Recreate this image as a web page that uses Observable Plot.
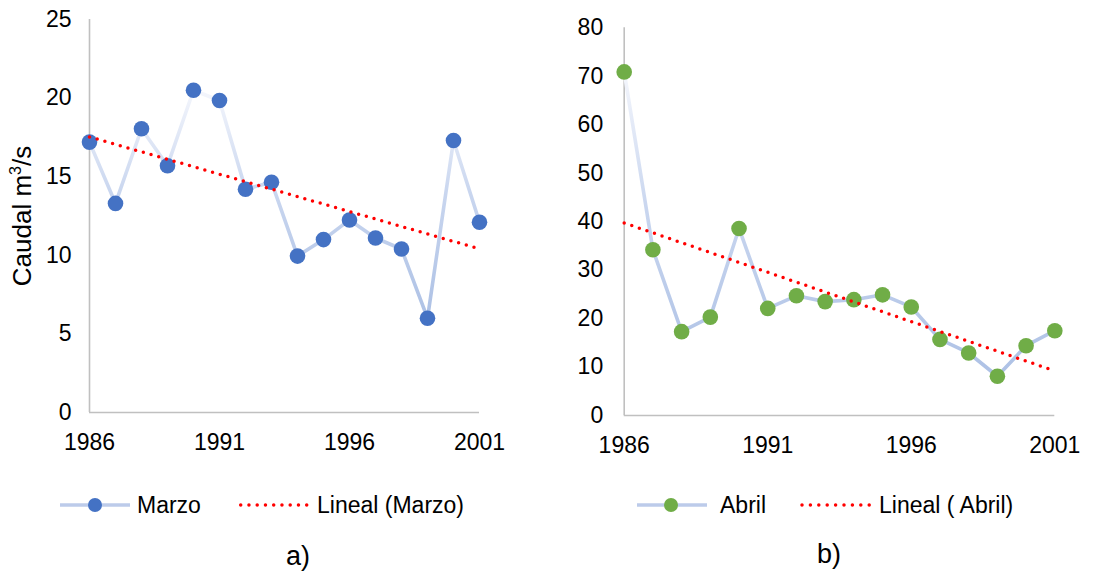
<!DOCTYPE html>
<html><head><meta charset="utf-8">
<script src="https://cdn.jsdelivr.net/npm/d3@7"></script>
<script src="https://cdn.jsdelivr.net/npm/@observablehq/plot@0.6"></script>
<style>
body{margin:0;background:#fff;}
#wrap{position:relative;width:1105px;height:571px;font-family:"Liberation Sans",Arial,sans-serif;overflow:hidden;background:#fff;}
.abs{position:absolute;}
</style></head><body><div id="wrap"></div>
<script>
const years = [1986,1987,1988,1989,1990,1991,1992,1993,1994,1995,1996,1997,1998,1999,2000,2001];
const marzo = [17.2,13.3,18.05,15.7,20.5,19.85,14.2,14.65,9.95,11.0,12.25,11.1,10.4,6.0,17.3,12.1];
const abril = [70.9,34.2,17.3,20.3,38.6,22.1,24.7,23.5,23.9,24.9,22.4,15.7,12.9,8.1,14.4,17.5];
const xTicks = [1986,1991,1996,2001];
const yTicksA = [0,5,10,15,20,25];
const yTicksB = [0,10,20,30,40,50,60,70,80];
const seriesNames = ["Marzo","Abril"];
const trendNames = ["Lineal (Marzo)","Lineal ( Abril)"];
const captions = ["a)","b)"];

const FONT = '"Liberation Sans", Arial, sans-serif';
const wrap = document.getElementById("wrap");

function makeChart(values, o) {
  const data = years.map((x, i) => ({x, y: values[i]}));
  const chart = Plot.plot({
    width: o.width, height: o.height,
    marginLeft: o.ml, marginRight: o.mr, marginTop: o.mt, marginBottom: o.mb,
    style: {fontFamily: FONT, fontSize: "23px", color: "#000", background: "transparent", overflow: "visible"},
    x: {domain: [1986, 2001]},
    y: {domain: o.yDomain},
    marks: [
      Plot.ruleY([o.yDomain[0]], {stroke: "#c0c0c0", strokeWidth: 1.6}),
      Plot.ruleX([1986], {stroke: "#c0c0c0", strokeWidth: 1.6}),
      Plot.axisX({ticks: xTicks, tickSize: 0, tickPadding: 21, tickFormat: d => String(d), label: null, fontSize: 23}),
      Plot.axisY({ticks: o.yTicks, tickSize: 0, tickPadding: o.yPad, label: null, fontSize: 23}),
      Plot.line(data, {x: "x", y: "y", stroke: `url(#${o.gid})`, strokeWidth: 3.6}),
      Plot.dot(data, {x: "x", y: "y", r: 7.8, fill: o.fill, stroke: "none"}),
      Plot.linearRegressionY(data, {x: "x", y: "y", stroke: "#ff0000", ci: 0, strokeWidth: 3.5, strokeDasharray: "0,8", strokeLinecap: "round"})
    ]
  });
  d3.select(chart).selectAll("text").style("font-size", "23px").style("font-family", FONT).attr("fill", "#000");
  d3.select(chart).insert("defs", ":first-child").html(
    `<linearGradient id="${o.gid}" x1="0" y1="0" x2="0" y2="1">
       <stop offset="0" stop-color="#f4f6fc"/>
       <stop offset="0.45" stop-color="#c9d6ef"/>
       <stop offset="1" stop-color="#adc1e5"/>
     </linearGradient>`);
  chart.classList.add("abs");
  chart.style.left = o.left + "px";
  chart.style.top = "0px";
  wrap.appendChild(chart);
}

makeChart(marzo, {width: 540, height: 460, ml: 89, mr: 61, mt: 19, mb: 48, left: 0,
  yDomain: [0, 25], yTicks: yTicksA, yPad: 18, fill: "#4472c4", gid: "gA"});
makeChart(abril, {width: 555, height: 460, ml: 73.7, mr: 50.7, mt: 27.3, mb: 45, left: 550,
  yDomain: [0, 80], yTicks: yTicksB, yPad: 21, fill: "#70ad47", gid: "gB"});

// Overlay: axis title, legends, captions
const ov = d3.select(wrap).append("svg").attr("class", "abs")
  .attr("width", 1105).attr("height", 571)
  .style("left", "0px").style("top", "0px")
  .style("font-family", FONT);

const yt = ov.append("text").attr("transform", "translate(31,216) rotate(-90)")
  .attr("text-anchor", "middle").attr("font-size", 26).attr("fill", "#000");
yt.append("tspan").text("Caudal m");
yt.append("tspan").attr("font-size", 16).attr("dy", -10).text("3");
yt.append("tspan").attr("dy", 10).text("/s");

const legends = [
  {l0: 60, l1: 130, cx: 95, tx: 137, d0: 240.7, d1: 307, dsp: 8.25, t2: 317, fill: "#4472c4"},
  {l0: 637, l1: 707, cx: 671, tx: 720, d0: 802, d1: 869, dsp: 8.4, t2: 879, fill: "#70ad47"}
];
legends.forEach((g, i) => {
  ov.append("line").attr("x1", g.l0).attr("x2", g.l1).attr("y1", 505).attr("y2", 505)
    .attr("stroke", "#bccbea").attr("stroke-width", 3.5);
  ov.append("circle").attr("cx", g.cx).attr("cy", 505).attr("r", 7).attr("fill", g.fill);
  ov.append("text").attr("x", g.tx).attr("y", 513).attr("font-size", 23).attr("fill", "#000").text(seriesNames[i]);
  ov.append("line").attr("x1", g.d0).attr("x2", g.d1 + 0.5).attr("y1", 505).attr("y2", 505)
    .attr("stroke", "#ff0000").attr("stroke-width", 3.5)
    .attr("stroke-dasharray", `0,${g.dsp}`).attr("stroke-linecap", "round");
  ov.append("text").attr("x", g.t2).attr("y", 513).attr("font-size", 23).attr("fill", "#000").text(trendNames[i]);
});
ov.append("text").attr("x", 286).attr("y", 565).attr("font-size", 27).attr("fill", "#000").text(captions[0]);
ov.append("text").attr("x", 817).attr("y", 563).attr("font-size", 27).attr("fill", "#000").text(captions[1]);
</script></body></html>
